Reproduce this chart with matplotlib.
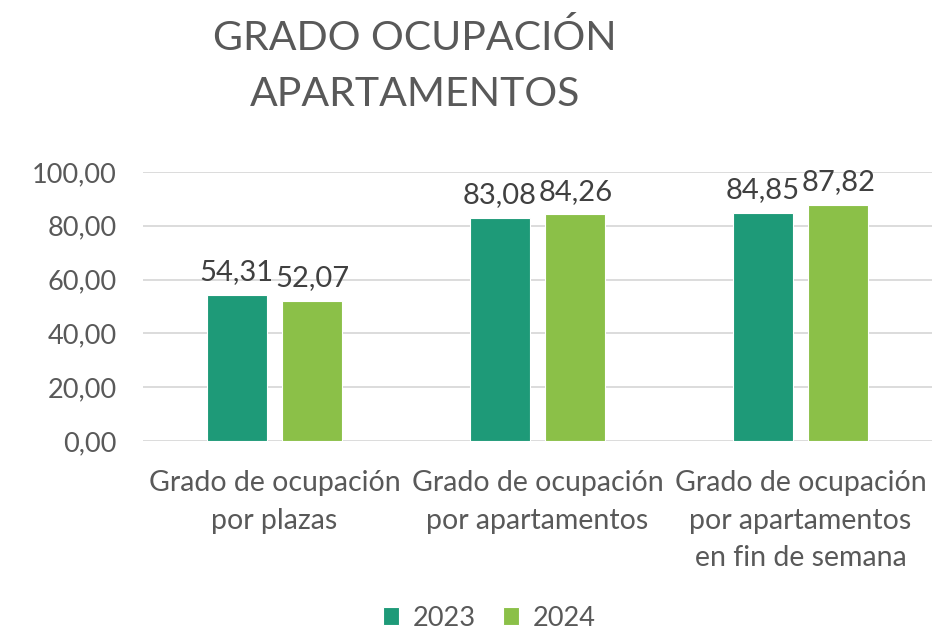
import matplotlib
matplotlib.use("Agg")
import matplotlib.pyplot as plt
import numpy as np

plt.rcParams["font.family"] = ["Lato", "DejaVu Sans"]

categories = ["Grado de ocupación\npor plazas",
              "Grado de ocupación\npor apartamentos",
              "Grado de ocupación\npor apartamentos\nen fin de semana"]
series_names = ["2023", "2024"]
vals_2023 = [54.31, 83.08, 84.85]
vals_2024 = [52.07, 84.26, 87.82]
colors = ["#1E9A78", "#8BC048"]

fig = plt.figure(figsize=(9.4, 6.34), dpi=100)
ax = fig.add_axes([143 / 940, 1 - 441 / 634, (932 - 143) / 940, (441 - 172) / 634])

x = np.arange(len(categories))
w = 0.228
off = 0.144
for i, (vals, name) in enumerate(zip([vals_2023, vals_2024], series_names)):
    bars = ax.bar(x + (i * 2 - 1) * off, vals, w, color=colors[i], label=name,
                  edgecolor="white", linewidth=0.8, zorder=3)
    for b, v in zip(bars, vals):
        ax.annotate(f"{v:.2f}".replace(".", ","), (b.get_x() + b.get_width() / 2, v),
                    xytext=(0, 7), textcoords="offset points", ha="center", va="bottom",
                    fontsize=21, color="#404040")

ax.set_xlim(-0.5, 2.5)
ax.set_ylim(0, 100)
ax.set_yticks(np.arange(0, 101, 20))
ax.set_yticklabels([f"{t:.2f}".replace(".", ",") for t in np.arange(0, 101, 20)])
ax.set_xticks(x)
ax.set_xticklabels(categories, linespacing=1.55)
ax.tick_params(axis="both", length=0, labelsize=19.5, labelcolor="#595959")
ax.tick_params(axis="x", labelsize=20.5, pad=21)
ax.tick_params(axis="y", pad=19)
ax.grid(axis="y", color="#D9D9D9", linewidth=1.3, zorder=0)
for s in ax.spines.values():
    s.set_visible(False)

fig.text(415 / 940, 1 - 66 / 634, "GRADO OCUPACIÓN\nAPARTAMENTOS", ha="center", va="center",
         fontsize=29.5, color="#595959", linespacing=1.6)

fig.legend(loc="center", bbox_to_anchor=(489 / 940, 1 - 618 / 634), ncol=2, frameon=False,
           fontsize=19.5, labelcolor="#595959", handlelength=0.6, handleheight=0.6,
           handletextpad=0.5, columnspacing=1.0, borderaxespad=0, borderpad=0.1)

fig.savefig("out.png", dpi=100)
